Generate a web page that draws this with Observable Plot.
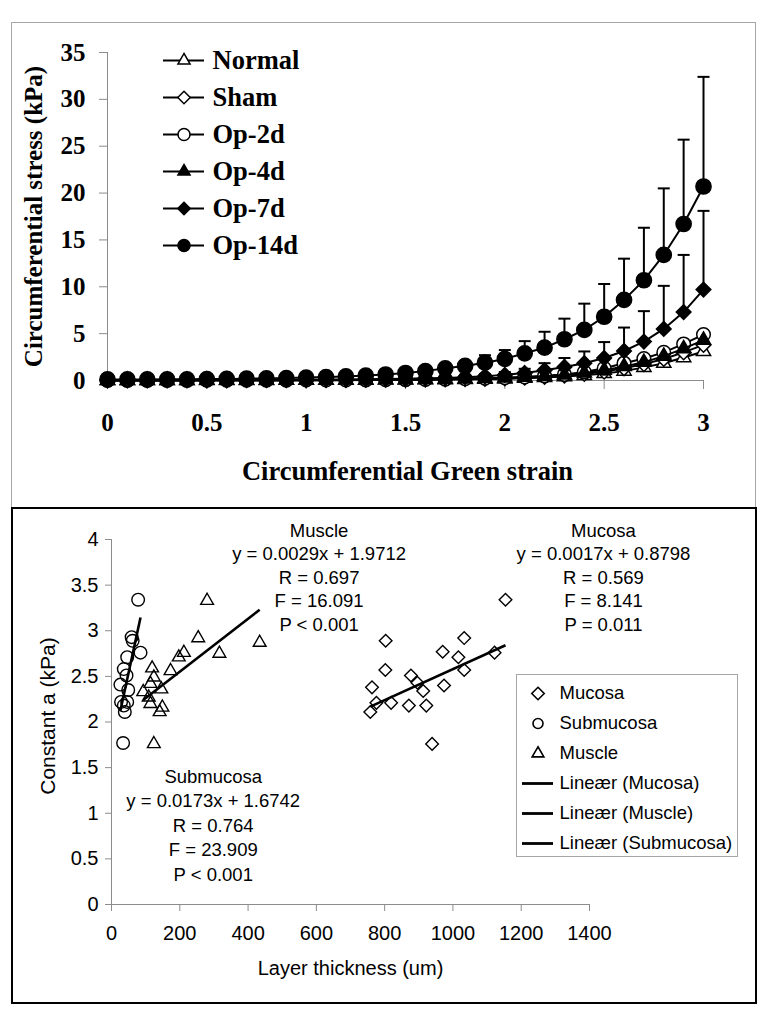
<!DOCTYPE html>
<html>
<head>
<meta charset="utf-8">
<script src="https://cdn.jsdelivr.net/npm/d3@7"></script>
<script src="https://cdn.jsdelivr.net/npm/@observablehq/plot@0.6"></script>
<style>
  body { margin: 0; background: #fff; }
  #wrap { position: relative; width: 771px; height: 1016px; overflow: hidden; background: #fff; }
  .abs { position: absolute; }
  #topFrame { left: 11px; top: 22px; width: 745px; height: 487px; border: 1px solid #a6a6a6; box-sizing: border-box; }
  #botFrame { left: 11px; top: 507px; width: 746px; height: 497px; border: 2px solid #000; box-sizing: border-box; }
  #legBox { left: 516px; top: 674px; width: 222px; height: 183px; border: 1px solid #a6a6a6; box-sizing: border-box; background: #fff; }
  svg { background: transparent !important; }
</style>
</head>
<body>
<div id="wrap">
  <div id="topFrame" class="abs"></div>
  <div id="botFrame" class="abs"></div>
  <div id="topChart" class="abs" style="left:0;top:0;"></div>
  <div id="topLegend" class="abs" style="left:150px;top:40px;"></div>
  <div id="botChart" class="abs" style="left:0;top:508px;"></div>
  <div id="legBox" class="abs"></div>
  <div id="botLegend" class="abs" style="left:516px;top:674px;"></div>
</div>
<script>
// ---------------- DATA: top panel ----------------
const strain = [0, 0.1, 0.2, 0.3, 0.4, 0.5, 0.6, 0.7, 0.8, 0.9, 1.0, 1.1, 1.2, 1.3, 1.4, 1.5,
                1.6, 1.7, 1.8, 1.9, 2.0, 2.1, 2.2, 2.3, 2.4, 2.5, 2.6, 2.7, 2.8, 2.9, 3.0];
const seriesNames = ["Normal", "Sham", "Op-2d", "Op-4d", "Op-7d", "Op-14d"];
const normal = [0.01, 0.01, 0.01, 0.01, 0.01, 0.02, 0.02, 0.02, 0.02, 0.03, 0.03, 0.04, 0.04, 0.05, 0.06, 0.07,
                0.08, 0.10, 0.12, 0.15, 0.18, 0.24, 0.32, 0.42, 0.55, 0.75, 1.0, 1.4, 1.85, 2.45, 3.1];
const sham   = [0.01, 0.01, 0.01, 0.02, 0.02, 0.02, 0.02, 0.03, 0.03, 0.03, 0.04, 0.04, 0.05, 0.06, 0.07, 0.08,
                0.10, 0.12, 0.15, 0.18, 0.22, 0.30, 0.40, 0.52, 0.70, 0.95, 1.3, 1.75, 2.3, 3.0, 3.8];
const op2d   = [0.02, 0.02, 0.02, 0.02, 0.02, 0.03, 0.03, 0.03, 0.04, 0.04, 0.05, 0.05, 0.06, 0.07, 0.08, 0.10,
                0.12, 0.15, 0.19, 0.24, 0.30, 0.38, 0.50, 0.65, 0.90, 1.3, 1.85, 2.35, 3.0, 3.9, 4.9];
const op4d   = [0.02, 0.02, 0.02, 0.02, 0.02, 0.03, 0.03, 0.03, 0.04, 0.04, 0.05, 0.05, 0.06, 0.07, 0.08, 0.10,
                0.12, 0.14, 0.18, 0.22, 0.28, 0.36, 0.46, 0.60, 0.80, 1.1, 1.5, 1.95, 2.6, 3.4, 4.3];
const op7d   = [0.03, 0.03, 0.03, 0.04, 0.04, 0.05, 0.05, 0.06, 0.07, 0.08, 0.09, 0.10, 0.12, 0.14, 0.16, 0.19,
                0.23, 0.28, 0.35, 0.45, 0.60, 0.80, 1.1, 1.45, 1.85, 2.4, 3.15, 4.15, 5.5, 7.3, 9.7];
const op14d  = [0.12, 0.12, 0.12, 0.13, 0.13, 0.15, 0.17, 0.19, 0.22, 0.26, 0.31, 0.37, 0.44, 0.53, 0.64, 0.80,
                1.0, 1.3, 1.55, 1.9, 2.3, 2.9, 3.5, 4.4, 5.4, 6.8, 8.6, 10.7, 13.4, 16.7, 20.7];
const sdOp7d = [0.02, 0.02, 0.02, 0.02, 0.02, 0.03, 0.03, 0.03, 0.04, 0.04, 0.05, 0.05, 0.06, 0.07, 0.08, 0.10,
                0.12, 0.15, 0.19, 0.24, 0.30, 0.45, 0.75, 0.95, 1.25, 1.7, 2.5, 3.25, 4.6, 6.1, 8.4];
const sdOp14d = [0.05, 0.05, 0.05, 0.05, 0.05, 0.06, 0.06, 0.07, 0.08, 0.09, 0.1, 0.11, 0.12, 0.13, 0.14, 0.15,
                 0.2, 0.3, 0.45, 0.8, 0.95, 1.3, 1.7, 2.2, 2.8, 3.5, 4.4, 5.6, 7.1, 9.0, 11.7];
const topXTicks = [0, 0.5, 1, 1.5, 2, 2.5, 3];
const topYTicks = [0, 5, 10, 15, 20, 25, 30, 35];

// ---------------- DATA: bottom panel ----------------
const mucosaX = [1154, 803, 1033, 970, 1122, 1016, 802, 1033, 877, 763, 974, 896, 913, 776, 819, 871, 922, 758, 939];
const mucosaY = [3.34, 2.89, 2.92, 2.77, 2.76, 2.71, 2.57, 2.57, 2.51, 2.38, 2.40, 2.43, 2.34, 2.21, 2.21, 2.18, 2.18, 2.11, 1.76];
const submucosaX = [78, 59, 62, 85, 46, 36, 44, 26, 49, 28, 46, 36, 39, 34];
const submucosaY = [3.34, 2.93, 2.89, 2.76, 2.71, 2.58, 2.51, 2.41, 2.35, 2.22, 2.22, 2.18, 2.11, 1.77];
const muscleX = [280, 254, 316, 434, 212, 197, 173, 119, 124, 93, 114, 146, 114, 149, 141, 124, 109];
const muscleY = [3.33, 2.92, 2.75, 2.87, 2.76, 2.71, 2.56, 2.59, 2.49, 2.33, 2.42, 2.36, 2.20, 2.16, 2.11, 1.76, 2.27];
const layerNames = ["Mucosa", "Submucosa", "Muscle"];
const fitSlope = [0.0017, 0.0173, 0.0029];
const fitIntercept = [0.8798, 1.6742, 1.9712];
const muscleNote = ["Muscle", "y = 0.0029x + 1.9712", "R = 0.697", "F = 16.091", "P < 0.001"];
const mucosaNote = ["Mucosa", "y = 0.0017x + 0.8798", "R = 0.569", "F = 8.141", "P = 0.011"];
const submucosaNote = ["Submucosa", "y = 0.0173x + 1.6742", "R = 0.764", "F = 23.909", "P < 0.001"];
const botLegendLabels = ["Mucosa", "Submucosa", "Muscle", "Lineær (Mucosa)", "Lineær (Muscle)", "Lineær (Submucosa)"];
const botXTicks = [0, 200, 400, 600, 800, 1000, 1200, 1400];
const botYTicks = [0, 0.5, 1, 1.5, 2, 2.5, 3, 3.5, 4];

// ---------------- STYLE ----------------
const SERIF = "'Liberation Serif', 'Times New Roman', serif";
const SANS = "'Liberation Sans', Arial, sans-serif";
const AXIS_GRAY = "#8c8c8c";
const topStyle = {
  Normal:   {symbol: "triangle2", fill: "white", r: 6.8, lr: 5.8},
  Sham:     {symbol: "diamond2",  fill: "white", r: 6.6, lr: 5.6},
  "Op-2d":  {symbol: "circle",    fill: "white", r: 6.8, lr: 6.0},
  "Op-4d":  {symbol: "triangle2", fill: "black", r: 6.8, lr: 5.8},
  "Op-7d":  {symbol: "diamond2",  fill: "black", r: 6.6, lr: 5.6},
  "Op-14d": {symbol: "circle",    fill: "black", r: 7.6, lr: 6.0}
};
const capSymbol = {
  draw(context, size) {
    const w = Math.sqrt(size / Math.PI);
    context.moveTo(-w, 0);
    context.lineTo(w, 0);
  }
};

// ---------------- TOP CHART ----------------
const seriesValues = [normal, sham, op2d, op4d, op7d, op14d];
const seriesSD = [null, null, null, null, sdOp7d, sdOp14d];
const topMarks = [
  Plot.ruleY([0], {stroke: AXIS_GRAY, strokeWidth: 1}),
  Plot.ruleX([0], {stroke: AXIS_GRAY, strokeWidth: 1}),
  Plot.axisY({ticks: topYTicks, tickSize: 8, tickPadding: 14, stroke: AXIS_GRAY, fill: "black",
    fontSize: 25, fontWeight: "bold", fontFamily: SERIF, tickFormat: d => String(d), label: null}),
  Plot.axisX({ticks: topXTicks, tickSize: 9, tickPadding: 24, stroke: AXIS_GRAY, fill: "black",
    fontSize: 25, fontWeight: "bold", fontFamily: SERIF, tickFormat: d => String(d), label: null}),
  Plot.text(["Circumferential stress (kPa)"], {frameAnchor: "left", rotate: -90, textAnchor: "middle",
    dx: -74, fontSize: 25, fontWeight: "bold", fontFamily: SERIF, fill: "black"}),
  Plot.text(["Circumferential Green strain"], {frameAnchor: "bottom", dy: 99, dx: 2,
    fontSize: 26.5, fontWeight: "bold", fontFamily: SERIF, fill: "black"})
];
seriesNames.forEach((name, k) => {
  const vals = seriesValues[k];
  const sd = seriesSD[k];
  const rows = strain.map((x, i) => ({x, y: vals[i], sd: sd ? sd[i] : 0}));
  const st = topStyle[name];
  topMarks.push(Plot.line(rows, {x: "x", y: "y", stroke: "black", strokeWidth: 2}));
  if (sd) {
    topMarks.push(Plot.ruleX(rows, {x: "x", y1: "y", y2: d => d.y + d.sd, stroke: "black", strokeWidth: 2}));
    topMarks.push(Plot.dot(rows, {x: "x", y: d => d.y + d.sd, symbol: capSymbol, r: 6, stroke: "black", strokeWidth: 2, fill: "none"}));
  }
  topMarks.push(Plot.dot(rows, {x: "x", y: "y", symbol: st.symbol, r: st.r, fill: st.fill, stroke: "black", strokeWidth: 1.5}));
});
const topChart = Plot.plot({
  width: 771, height: 508,
  marginLeft: 107, marginRight: 68, marginTop: 52, marginBottom: 128,
  x: {domain: [0, 3]},
  y: {domain: [0, 35]},
  style: {background: "transparent", fontFamily: SERIF},
  marks: topMarks
});
document.getElementById("topChart").appendChild(topChart);

// top legend
const topLegend = Plot.plot({
  width: 200, height: 230,
  margin: 0,
  x: {domain: [0, 1], range: [13, 54], axis: null},
  y: {type: "point", domain: seriesNames, range: [20, 205], padding: 0, axis: null},
  r: {type: "identity"},
  style: {background: "transparent"},
  marks: [
    Plot.ruleY(seriesNames, {y: d => d, x1: 0, x2: 1, stroke: "black", strokeWidth: 1.8}),
    Plot.dot(seriesNames, {x: 0.5, y: d => d, symbol: d => topStyle[d].symbol, r: d => topStyle[d].lr,
      fill: d => topStyle[d].fill, stroke: "black", strokeWidth: 1.5}),
    Plot.text(seriesNames, {x: 1, y: d => d, text: d => d, dx: 8, textAnchor: "start",
      fontSize: 26.5, fontWeight: "bold", fontFamily: SERIF, fill: "black"})
  ]
});
document.getElementById("topLegend").appendChild(topLegend);

// ---------------- BOTTOM CHART ----------------
const layerX = [mucosaX, submucosaX, muscleX];
const layerY = [mucosaY, submucosaY, muscleY];
const layerSymbol = {Mucosa: "diamond2", Submucosa: "circle", Muscle: "triangle2"};
const layerR = {Mucosa: 5.7, Submucosa: 6.3, Muscle: 6.1};
const layerLegendR = {Mucosa: 5.6, Submucosa: 5.0, Muscle: 5.6};
const points = [];
layerNames.forEach((name, k) => {
  layerX[k].forEach((x, i) => points.push({layer: name, x, y: layerY[k][i]}));
});
const fits = layerNames.map((name, k) => {
  const x1 = d3.min(layerX[k]), x2 = d3.max(layerX[k]);
  return {layer: name, x1, x2, y1: fitSlope[k] * x1 + fitIntercept[k], y2: fitSlope[k] * x2 + fitIntercept[k]};
});
const noteLayout = [
  {lines: muscleNote, x: 608, y: 3.60, lh: 1.27},
  {lines: mucosaNote, x: 1441, y: 3.60, lh: 1.27},
  {lines: submucosaNote, x: 298, y: 0.884, lh: 1.33}
];
const botChart = Plot.plot({
  width: 771, height: 495,
  marginLeft: 111, marginRight: 182, marginTop: 31, marginBottom: 99,
  x: {domain: [0, 1400]},
  y: {domain: [0, 4]},
  r: {type: "identity"},
  style: {background: "transparent", fontFamily: SANS},
  marks: [
    Plot.ruleY([0], {stroke: AXIS_GRAY, strokeWidth: 1}),
    Plot.ruleX([0], {stroke: AXIS_GRAY, strokeWidth: 1}),
    Plot.axisY({ticks: botYTicks, tickSize: 6, tickPadding: 7, stroke: AXIS_GRAY, fill: "black",
      fontSize: 20, fontFamily: SANS, tickFormat: d => String(d), label: null}),
    Plot.axisX({ticks: botXTicks, tickSize: 7, tickPadding: 14, stroke: AXIS_GRAY, fill: "black",
      fontSize: 20, fontFamily: SANS, tickFormat: d => String(d), label: null}),
    Plot.text(["Constant a (kPa)"], {frameAnchor: "left", rotate: -90, textAnchor: "middle", dx: -63, dy: -6,
      fontSize: 21, fontFamily: SANS, fill: "black"}),
    Plot.text(["Layer thickness (um)"], {frameAnchor: "bottom", dy: 70,
      fontSize: 20, fontFamily: SANS, fill: "black"}),
    Plot.dot(points, {x: "x", y: "y", symbol: d => layerSymbol[d.layer], r: d => layerR[d.layer],
      fill: "none", stroke: "black", strokeWidth: 1.4}),
    Plot.link(fits, {x1: "x1", y1: "y1", x2: "x2", y2: "y2", stroke: "black", strokeWidth: 2.6}),
    ...noteLayout.map(n => Plot.text([n.lines.join("\n")], {x: n.x, y: n.y, lineHeight: n.lh,
      fontSize: 18.5, fontFamily: SANS, fill: "black"}))
  ]
});
document.getElementById("botChart").appendChild(botChart);

// bottom legend
const symbolRows = botLegendLabels.slice(0, 3);
const lineRows = botLegendLabels.slice(3);
const botLegend = Plot.plot({
  width: 222, height: 183,
  margin: 0,
  x: {domain: [0, 1], range: [6, 37], axis: null},
  y: {type: "point", domain: botLegendLabels, range: [18, 169], padding: 0, axis: null},
  r: {type: "identity"},
  style: {background: "transparent"},
  marks: [
    Plot.dot(symbolRows, {x: 0.5, y: d => d, symbol: d => layerSymbol[d], r: d => layerLegendR[d],
      fill: "none", stroke: "black", strokeWidth: 1.6}),
    Plot.ruleY(lineRows, {y: d => d, x1: 0, x2: 1, stroke: "black", strokeWidth: 2.8}),
    Plot.text(botLegendLabels, {x: 1, y: d => d, text: d => d, dx: 6, textAnchor: "start",
      fontSize: 18.5, fontFamily: SANS, fill: "black"})
  ]
});
document.getElementById("botLegend").appendChild(botLegend);
</script>
</body>
</html>
